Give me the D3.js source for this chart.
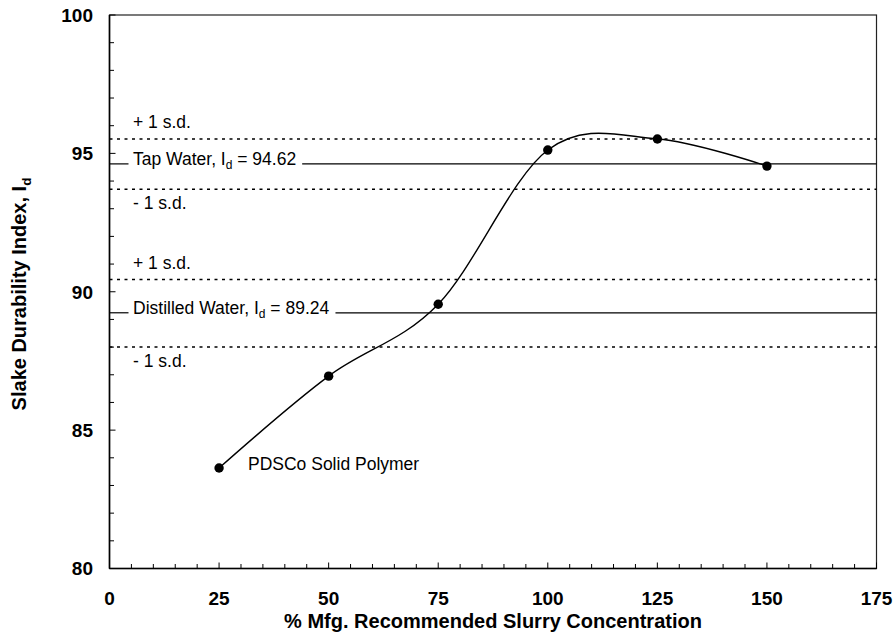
<!DOCTYPE html>
<html>
<head>
<meta charset="utf-8">
<script src="https://cdn.jsdelivr.net/npm/d3@7"></script>
<style>
  html, body { margin: 0; padding: 0; background: #fff; }
  svg { display: block; font-family: Arial, "Liberation Sans", sans-serif; }
</style>
</head>
<body>
<svg id="chart" width="896" height="640"></svg>
<script>
// Slake durability of the polymer slurry at each concentration
const concentrations = [25, 50, 75, 100, 125, 150];
const durability = [83.63, 86.95, 89.55, 95.12, 95.52, 94.54];

// Reference fluids: mean index and ±1 standard deviation bands
const refNames = ["Tap Water", "Distilled Water"];
const refMeans = [94.62, 89.24];
const refPlusSD = [95.52, 90.44];
const refMinusSD = [93.70, 88.00];

// Axis ticks
const xTicks = [0, 25, 50, 75, 100, 125, 150, 175];
const yTicks = [80, 85, 90, 95, 100];

const svg = d3.select("#chart");
const m = { left: 109.5, top: 15, right: 876.5, bottom: 568.5 };

const x = d3.scaleLinear().domain([0, 175]).range([m.left, m.right]);
const y = d3.scaleLinear().domain([80, 100]).range([m.bottom, m.top]);

// Frame
svg.append("rect")
  .attr("x", m.left).attr("y", m.top)
  .attr("width", m.right - m.left).attr("height", m.bottom - m.top)
  .attr("fill", "none").attr("stroke", "#222").attr("stroke-width", 1.2);

// Minor and major ticks, pointing inward
const xMinor = d3.range(0, 176, 5);
svg.append("g").selectAll("line").data(xMinor).join("line")
  .attr("x1", d => x(d)).attr("x2", d => x(d))
  .attr("y1", m.bottom).attr("y2", d => m.bottom - (d % 25 === 0 ? 6 : 4.5))
  .attr("stroke", "#000").attr("stroke-width", 1);
const yMinor = d3.range(80, 100.5, 1);
svg.append("g").selectAll("line").data(yMinor).join("line")
  .attr("y1", d => y(d)).attr("y2", d => y(d))
  .attr("x1", m.left).attr("x2", d => m.left + (d % 5 === 0 ? 6 : 4.5))
  .attr("stroke", "#000").attr("stroke-width", 1);

// Axis lines
svg.append("line").attr("x1", m.left).attr("x2", m.left).attr("y1", m.top).attr("y2", m.bottom)
  .attr("stroke", "#000").attr("stroke-width", 1.6);
svg.append("line").attr("x1", m.left).attr("x2", m.right).attr("y1", m.bottom).attr("y2", m.bottom)
  .attr("stroke", "#000").attr("stroke-width", 1.6);

// Tick labels
svg.append("g").selectAll("text").data(xTicks).join("text")
  .attr("x", d => x(d)).attr("y", 605)
  .attr("text-anchor", "middle").attr("font-weight", "bold").attr("font-size", 19)
  .text(d => d);
svg.append("g").selectAll("text").data(yTicks).join("text")
  .attr("x", 93).attr("y", d => y(d) + 6.8)
  .attr("text-anchor", "end").attr("font-weight", "bold").attr("font-size", 19)
  .text(d => d);

// Axis titles
svg.append("text")
  .attr("x", (m.left + m.right) / 2).attr("y", 628)
  .attr("text-anchor", "middle").attr("font-weight", "bold").attr("font-size", 20)
  .text("% Mfg. Recommended Slurry Concentration");

const yTitle = svg.append("text")
  .attr("transform", "translate(26," + 294 + ") rotate(-90)")
  .attr("text-anchor", "middle").attr("font-weight", "bold").attr("font-size", 20);
yTitle.append("tspan").text("Slake Durability Index, I");
yTitle.append("tspan").attr("font-size", 13.5).attr("dy", 4.5).text("d");

// Reference bands
refNames.forEach((name, i) => {
  const g = svg.append("g");
  [refPlusSD[i], refMinusSD[i]].forEach(v => {
    g.append("line")
      .attr("x1", m.left).attr("x2", m.right).attr("y1", y(v)).attr("y2", y(v))
      .attr("stroke", "#000").attr("stroke-width", 1.5).attr("stroke-dasharray", "3,4.5");
  });
  g.append("text").attr("x", 133).attr("y", y(refPlusSD[i]) - 10.5)
    .attr("font-size", 17.5).text("+ 1 s.d.");
  g.append("text").attr("x", 133).attr("y", y(refMinusSD[i]) + 20)
    .attr("font-size", 17.5).text("- 1 s.d.");

  const ym = y(refMeans[i]);
  const label = g.append("text").attr("x", 133).attr("y", ym + 1.5).attr("font-size", 17.5);
  label.append("tspan").text(name + ", I");
  label.append("tspan").attr("font-size", 12).attr("dy", 4).text("d");
  label.append("tspan").attr("dy", -4).text(" = " + refMeans[i].toFixed(2));
  const bb = label.node().getBBox();
  g.append("line").attr("x1", m.left).attr("x2", 128.5).attr("y1", ym).attr("y2", ym)
    .attr("stroke", "#000").attr("stroke-width", 1.2);
  g.append("line").attr("x1", bb.x + bb.width + 6).attr("x2", m.right).attr("y1", ym).attr("y2", ym)
    .attr("stroke", "#000").attr("stroke-width", 1.2);
});

// Smoothed data curve
const pts = concentrations.map((c, i) => [c, durability[i]]);
svg.append("path")
  .datum(pts)
  .attr("d", d3.line().x(d => x(d[0])).y(d => y(d[1])).curve(d3.curveCardinal.tension(0)))
  .attr("fill", "none").attr("stroke", "#000").attr("stroke-width", 1.4);

svg.append("g").selectAll("circle").data(pts).join("circle")
  .attr("cx", d => x(d[0])).attr("cy", d => y(d[1])).attr("r", 4.7)
  .attr("fill", "#000");

svg.append("text").attr("x", 248).attr("y", 470).attr("font-size", 17.5)
  .text("PDSCo Solid Polymer");
</script>
</body>
</html>
